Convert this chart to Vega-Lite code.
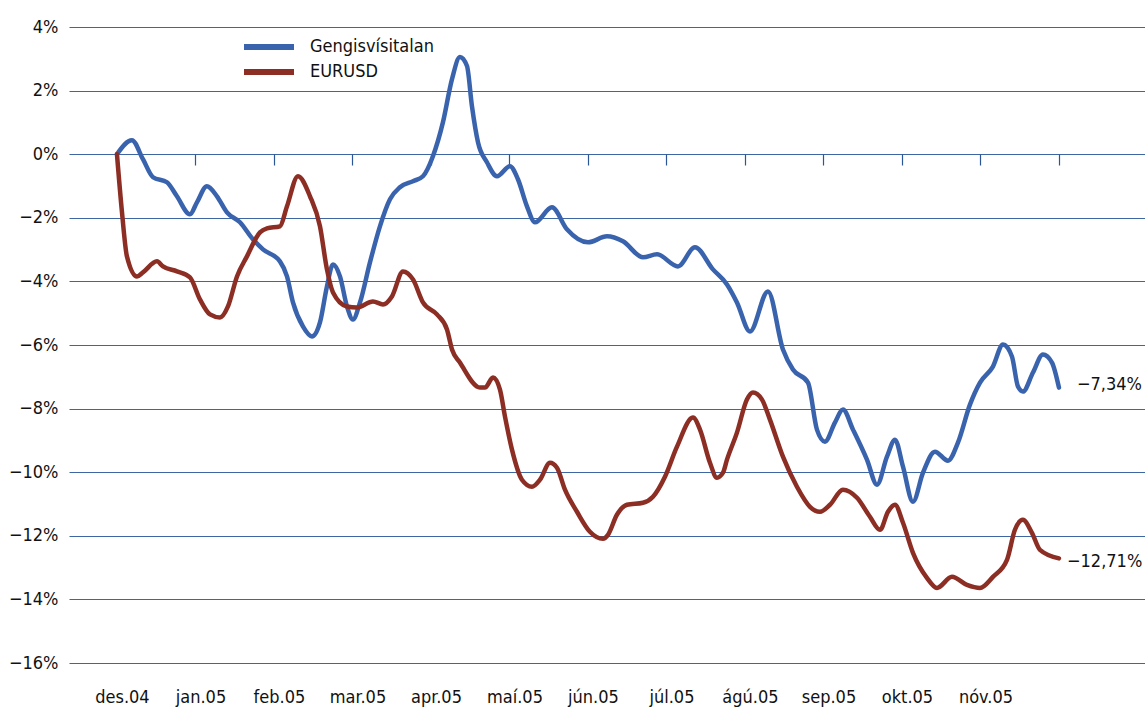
{
  "$schema": "https://vega.github.io/schema/vega-lite/v6.json",
  "width": 1076,
  "height": 636,
  "autosize": {"type": "none"},
  "padding": {"left": 69, "top": 27, "right": 0, "bottom": 44},
  "background": "white",
  "config": {
    "view": {"stroke": null},
    "font": "DejaVu Sans Condensed",
    "axis": {"labelFont": "DejaVu Sans Condensed", "labelFontSize": 18, "labelColor": "#111111"},
    "text": {"font": "DejaVu Sans Condensed"}
  },
  "datasets": {
    "lines": [
      {"series": "Gengisvísitalan", "m": 0, "v": 0},
      {"series": "Gengisvísitalan", "m": 0.191, "v": 0.441},
      {"series": "Gengisvísitalan", "m": 0.331, "v": -0.157},
      {"series": "Gengisvísitalan", "m": 0.459, "v": -0.724},
      {"series": "Gengisvísitalan", "m": 0.637, "v": -0.882},
      {"series": "Gengisvísitalan", "m": 0.764, "v": -1.323},
      {"series": "Gengisvísitalan", "m": 0.93, "v": -1.89},
      {"series": "Gengisvísitalan", "m": 1.019, "v": -1.512},
      {"series": "Gengisvísitalan", "m": 1.146, "v": -1.008},
      {"series": "Gengisvísitalan", "m": 1.274, "v": -1.323},
      {"series": "Gengisvísitalan", "m": 1.401, "v": -1.827},
      {"series": "Gengisvísitalan", "m": 1.567, "v": -2.142},
      {"series": "Gengisvísitalan", "m": 1.732, "v": -2.677},
      {"series": "Gengisvísitalan", "m": 1.86, "v": -2.992},
      {"series": "Gengisvísitalan", "m": 2.076, "v": -3.37},
      {"series": "Gengisvísitalan", "m": 2.166, "v": -3.843},
      {"series": "Gengisvísitalan", "m": 2.242, "v": -4.661},
      {"series": "Gengisvísitalan", "m": 2.369, "v": -5.417},
      {"series": "Gengisvísitalan", "m": 2.484, "v": -5.732},
      {"series": "Gengisvísitalan", "m": 2.586, "v": -5.291},
      {"series": "Gengisvísitalan", "m": 2.675, "v": -4.157},
      {"series": "Gengisvísitalan", "m": 2.752, "v": -3.465},
      {"series": "Gengisvísitalan", "m": 2.841, "v": -3.843},
      {"series": "Gengisvísitalan", "m": 2.93, "v": -4.787},
      {"series": "Gengisvísitalan", "m": 3.006, "v": -5.197},
      {"series": "Gengisvísitalan", "m": 3.096, "v": -4.661},
      {"series": "Gengisvísitalan", "m": 3.223, "v": -3.402},
      {"series": "Gengisvísitalan", "m": 3.35, "v": -2.268},
      {"series": "Gengisvísitalan", "m": 3.478, "v": -1.417},
      {"series": "Gengisvísitalan", "m": 3.605, "v": -1.039},
      {"series": "Gengisvísitalan", "m": 3.771, "v": -0.85},
      {"series": "Gengisvísitalan", "m": 3.898, "v": -0.693},
      {"series": "Gengisvísitalan", "m": 4.025, "v": -0.063},
      {"series": "Gengisvísitalan", "m": 4.153, "v": 1.008},
      {"series": "Gengisvísitalan", "m": 4.268, "v": 2.362},
      {"series": "Gengisvísitalan", "m": 4.369, "v": 3.055},
      {"series": "Gengisvísitalan", "m": 4.459, "v": 2.772},
      {"series": "Gengisvísitalan", "m": 4.522, "v": 1.512},
      {"series": "Gengisvísitalan", "m": 4.599, "v": 0.378},
      {"series": "Gengisvísitalan", "m": 4.713, "v": -0.252},
      {"series": "Gengisvísitalan", "m": 4.841, "v": -0.693},
      {"series": "Gengisvísitalan", "m": 5.006, "v": -0.378},
      {"series": "Gengisvísitalan", "m": 5.108, "v": -0.787},
      {"series": "Gengisvísitalan", "m": 5.223, "v": -1.638},
      {"series": "Gengisvísitalan", "m": 5.325, "v": -2.142},
      {"series": "Gengisvísitalan", "m": 5.541, "v": -1.669},
      {"series": "Gengisvísitalan", "m": 5.732, "v": -2.362},
      {"series": "Gengisvísitalan", "m": 6.0, "v": -2.772},
      {"series": "Gengisvísitalan", "m": 6.242, "v": -2.583},
      {"series": "Gengisvísitalan", "m": 6.446, "v": -2.74},
      {"series": "Gengisvísitalan", "m": 6.701, "v": -3.244},
      {"series": "Gengisvísitalan", "m": 6.879, "v": -3.15},
      {"series": "Gengisvísitalan", "m": 7.146, "v": -3.528},
      {"series": "Gengisvísitalan", "m": 7.363, "v": -2.929},
      {"series": "Gengisvísitalan", "m": 7.592, "v": -3.622},
      {"series": "Gengisvísitalan", "m": 7.771, "v": -4.094},
      {"series": "Gengisvísitalan", "m": 7.898, "v": -4.661},
      {"series": "Gengisvísitalan", "m": 8.064, "v": -5.575},
      {"series": "Gengisvísitalan", "m": 8.293, "v": -4.315},
      {"series": "Gengisvísitalan", "m": 8.484, "v": -6.142},
      {"series": "Gengisvísitalan", "m": 8.611, "v": -6.772},
      {"series": "Gengisvísitalan", "m": 8.803, "v": -7.181},
      {"series": "Gengisvísitalan", "m": 8.917, "v": -8.661},
      {"series": "Gengisvísitalan", "m": 9.019, "v": -9.039},
      {"series": "Gengisvísitalan", "m": 9.146, "v": -8.441},
      {"series": "Gengisvísitalan", "m": 9.248, "v": -8.031},
      {"series": "Gengisvísitalan", "m": 9.376, "v": -8.661},
      {"series": "Gengisvísitalan", "m": 9.554, "v": -9.606},
      {"series": "Gengisvísitalan", "m": 9.682, "v": -10.394},
      {"series": "Gengisvísitalan", "m": 9.809, "v": -9.512},
      {"series": "Gengisvísitalan", "m": 9.911, "v": -8.976},
      {"series": "Gengisvísitalan", "m": 10.013, "v": -9.827},
      {"series": "Gengisvísitalan", "m": 10.14, "v": -10.929},
      {"series": "Gengisvísitalan", "m": 10.268, "v": -10.016},
      {"series": "Gengisvísitalan", "m": 10.42, "v": -9.354},
      {"series": "Gengisvísitalan", "m": 10.586, "v": -9.638},
      {"series": "Gengisvísitalan", "m": 10.713, "v": -9.071},
      {"series": "Gengisvísitalan", "m": 10.866, "v": -7.874},
      {"series": "Gengisvísitalan", "m": 10.994, "v": -7.181},
      {"series": "Gengisvísitalan", "m": 11.159, "v": -6.677},
      {"series": "Gengisvísitalan", "m": 11.287, "v": -5.984},
      {"series": "Gengisvísitalan", "m": 11.401, "v": -6.362},
      {"series": "Gengisvísitalan", "m": 11.478, "v": -7.307},
      {"series": "Gengisvísitalan", "m": 11.541, "v": -7.465},
      {"series": "Gengisvísitalan", "m": 11.669, "v": -6.866},
      {"series": "Gengisvísitalan", "m": 11.796, "v": -6.299},
      {"series": "Gengisvísitalan", "m": 11.911, "v": -6.551},
      {"series": "Gengisvísitalan", "m": 12.0, "v": -7.34},
      {"series": "EURUSD", "m": 0, "v": 0},
      {"series": "EURUSD", "m": 0.064, "v": -1.827},
      {"series": "EURUSD", "m": 0.127, "v": -3.213},
      {"series": "EURUSD", "m": 0.255, "v": -3.843},
      {"series": "EURUSD", "m": 0.331, "v": -3.717},
      {"series": "EURUSD", "m": 0.51, "v": -3.37},
      {"series": "EURUSD", "m": 0.586, "v": -3.528},
      {"series": "EURUSD", "m": 0.764, "v": -3.685},
      {"series": "EURUSD", "m": 0.93, "v": -3.874},
      {"series": "EURUSD", "m": 1.057, "v": -4.567},
      {"series": "EURUSD", "m": 1.185, "v": -5.039},
      {"series": "EURUSD", "m": 1.312, "v": -5.134},
      {"series": "EURUSD", "m": 1.414, "v": -4.787},
      {"series": "EURUSD", "m": 1.529, "v": -3.843},
      {"series": "EURUSD", "m": 1.656, "v": -3.213},
      {"series": "EURUSD", "m": 1.822, "v": -2.457},
      {"series": "EURUSD", "m": 1.911, "v": -2.331},
      {"series": "EURUSD", "m": 2.076, "v": -2.268},
      {"series": "EURUSD", "m": 2.166, "v": -1.638},
      {"series": "EURUSD", "m": 2.306, "v": -0.693},
      {"series": "EURUSD", "m": 2.459, "v": -1.323},
      {"series": "EURUSD", "m": 2.586, "v": -2.268},
      {"series": "EURUSD", "m": 2.675, "v": -3.622},
      {"series": "EURUSD", "m": 2.752, "v": -4.346},
      {"series": "EURUSD", "m": 2.93, "v": -4.787},
      {"series": "EURUSD", "m": 3.057, "v": -4.819},
      {"series": "EURUSD", "m": 3.261, "v": -4.63},
      {"series": "EURUSD", "m": 3.389, "v": -4.724},
      {"series": "EURUSD", "m": 3.503, "v": -4.472},
      {"series": "EURUSD", "m": 3.643, "v": -3.685},
      {"series": "EURUSD", "m": 3.771, "v": -3.937},
      {"series": "EURUSD", "m": 3.898, "v": -4.661},
      {"series": "EURUSD", "m": 4.076, "v": -5.039},
      {"series": "EURUSD", "m": 4.204, "v": -5.512},
      {"series": "EURUSD", "m": 4.268, "v": -6.142},
      {"series": "EURUSD", "m": 4.369, "v": -6.551},
      {"series": "EURUSD", "m": 4.624, "v": -7.339},
      {"series": "EURUSD", "m": 4.688, "v": -7.339},
      {"series": "EURUSD", "m": 4.79, "v": -7.024},
      {"series": "EURUSD", "m": 4.879, "v": -7.402},
      {"series": "EURUSD", "m": 4.943, "v": -8.252},
      {"series": "EURUSD", "m": 5.032, "v": -9.291},
      {"series": "EURUSD", "m": 5.159, "v": -10.236},
      {"series": "EURUSD", "m": 5.287, "v": -10.457},
      {"series": "EURUSD", "m": 5.389, "v": -10.236},
      {"series": "EURUSD", "m": 5.516, "v": -9.701},
      {"series": "EURUSD", "m": 5.605, "v": -9.858},
      {"series": "EURUSD", "m": 5.707, "v": -10.551},
      {"series": "EURUSD", "m": 5.86, "v": -11.244},
      {"series": "EURUSD", "m": 6.025, "v": -11.874},
      {"series": "EURUSD", "m": 6.191, "v": -12.094},
      {"series": "EURUSD", "m": 6.255, "v": -11.969},
      {"series": "EURUSD", "m": 6.369, "v": -11.339},
      {"series": "EURUSD", "m": 6.497, "v": -11.024},
      {"series": "EURUSD", "m": 6.701, "v": -10.961},
      {"series": "EURUSD", "m": 6.828, "v": -10.772},
      {"series": "EURUSD", "m": 6.981, "v": -10.142},
      {"series": "EURUSD", "m": 7.134, "v": -9.197},
      {"series": "EURUSD", "m": 7.338, "v": -8.283},
      {"series": "EURUSD", "m": 7.427, "v": -8.661},
      {"series": "EURUSD", "m": 7.554, "v": -9.701},
      {"series": "EURUSD", "m": 7.643, "v": -10.173},
      {"series": "EURUSD", "m": 7.72, "v": -10.016},
      {"series": "EURUSD", "m": 7.771, "v": -9.606},
      {"series": "EURUSD", "m": 7.898, "v": -8.756},
      {"series": "EURUSD", "m": 8.025, "v": -7.717},
      {"series": "EURUSD", "m": 8.102, "v": -7.496},
      {"series": "EURUSD", "m": 8.217, "v": -7.717},
      {"series": "EURUSD", "m": 8.318, "v": -8.346},
      {"series": "EURUSD", "m": 8.484, "v": -9.512},
      {"series": "EURUSD", "m": 8.662, "v": -10.457},
      {"series": "EURUSD", "m": 8.828, "v": -11.087},
      {"series": "EURUSD", "m": 8.955, "v": -11.244},
      {"series": "EURUSD", "m": 9.083, "v": -11.024},
      {"series": "EURUSD", "m": 9.248, "v": -10.551},
      {"series": "EURUSD", "m": 9.427, "v": -10.803},
      {"series": "EURUSD", "m": 9.592, "v": -11.402},
      {"series": "EURUSD", "m": 9.72, "v": -11.811},
      {"series": "EURUSD", "m": 9.822, "v": -11.244},
      {"series": "EURUSD", "m": 9.911, "v": -11.024},
      {"series": "EURUSD", "m": 10.013, "v": -11.591},
      {"series": "EURUSD", "m": 10.14, "v": -12.535},
      {"series": "EURUSD", "m": 10.318, "v": -13.323},
      {"series": "EURUSD", "m": 10.446, "v": -13.638},
      {"series": "EURUSD", "m": 10.637, "v": -13.291},
      {"series": "EURUSD", "m": 10.828, "v": -13.543},
      {"series": "EURUSD", "m": 10.994, "v": -13.638},
      {"series": "EURUSD", "m": 11.159, "v": -13.291},
      {"series": "EURUSD", "m": 11.338, "v": -12.756},
      {"series": "EURUSD", "m": 11.439, "v": -11.811},
      {"series": "EURUSD", "m": 11.541, "v": -11.496},
      {"series": "EURUSD", "m": 11.656, "v": -11.906},
      {"series": "EURUSD", "m": 11.758, "v": -12.441},
      {"series": "EURUSD", "m": 12.0, "v": -12.71}
    ],
    "ends": [
      {"series": "Gengisvísitalan", "m": 12.0, "v": -7.34, "label": "−7,34%"},
      {"series": "EURUSD", "m": 12.0, "v": -12.71, "label": "−12,71%"}
    ]
  },
  "layer": [
    {
      "data": {"name": "lines"},
      "mark": {"type": "line", "strokeWidth": 4.5, "interpolate": "monotone", "strokeCap": "round", "strokeJoin": "round"},
      "encoding": {
        "x": {
          "field": "m", "type": "quantitative",
          "scale": {"domain": [-0.611, 13.096], "nice": false, "zero": false},
          "axis": {
            "orient": "bottom", "values": [1, 2, 3, 4, 5, 6, 7, 8, 9, 10, 11, 12],
            "offset": -509, "labels": false, "domain": false, "grid": false,
            "ticks": true, "tickSize": 11, "tickColor": "#2c5596", "tickWidth": 1.2, "title": null
          }
        },
        "y": {
          "field": "v", "type": "quantitative",
          "scale": {"domain": [-16, 4], "nice": false, "zero": false},
          "axis": {
            "values": [-16, -14, -12, -10, -8, -6, -4, -2, 0, 2, 4],
            "labelExpr": "replace(toString(datum.value), '-', '−') + '%'",
            "domain": false, "ticks": false, "labelPadding": 11,
            "grid": true, "gridColor": "#3d66a3", "gridWidth": 1.2, "title": null
          }
        },
        "color": {
          "field": "series", "type": "nominal",
          "scale": {"domain": ["Gengisvísitalan", "EURUSD"], "range": ["#3a63ad", "#8c2e24"]},
          "legend": {
            "orient": "none", "legendX": 191, "legendY": 11, "title": null,
            "symbolType": "M-5,0H5", "symbolSize": 100, "symbolStrokeWidth": 6,
            "labelFont": "DejaVu Sans Condensed", "labelFontSize": 18, "labelColor": "#111111",
            "labelOffset": 32, "rowPadding": 1, "padding": 0
          }
        }
      }
    },
    {
      "data": {"name": "lines"},
      "mark": {"type": "point", "opacity": 0},
      "encoding": {
        "x": {
          "field": "m", "type": "quantitative",
          "axis": {
            "orient": "bottom", "values": [0, 1, 2, 3, 4, 5, 6, 7, 8, 9, 10, 11],
            "labelExpr": "['des.04','jan.05','feb.05','mar.05','apr.05','maí.05','jún.05','júl.05','ágú.05','sep.05','okt.05','nóv.05'][datum.value]",
            "ticks": false, "domain": false, "grid": false, "labelPadding": 25, "labelOffset": 5, "title": null
          }
        },
        "y": {"field": "v", "type": "quantitative"}
      }
    },
    {
      "data": {"name": "ends"},
      "transform": [{"filter": "datum.series === 'Gengisvísitalan'"}],
      "mark": {"type": "text", "align": "left", "baseline": "middle", "dx": 18, "dy": -3, "fontSize": 18, "color": "#111111"},
      "encoding": {
        "x": {"field": "m", "type": "quantitative", "axis": null},
        "y": {"field": "v", "type": "quantitative"},
        "text": {"field": "label"}
      }
    },
    {
      "data": {"name": "ends"},
      "transform": [{"filter": "datum.series === 'EURUSD'"}],
      "mark": {"type": "text", "align": "left", "baseline": "middle", "dx": 8, "dy": 4, "fontSize": 18, "color": "#111111"},
      "encoding": {
        "x": {"field": "m", "type": "quantitative", "axis": null},
        "y": {"field": "v", "type": "quantitative"},
        "text": {"field": "label"}
      }
    }
  ],
  "resolve": {"axis": {"x": "independent"}}
}
